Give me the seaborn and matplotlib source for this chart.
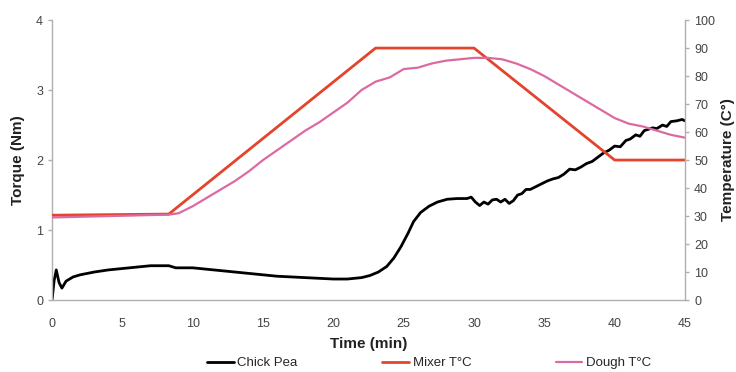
import matplotlib
matplotlib.use("Agg")
import matplotlib.pyplot as plt
import seaborn as sns
import pandas as pd

# torque of chick pea dough (Nm) vs time (min)
cp_time = [0, 0.15, 0.3, 0.5, 0.7, 1.0, 1.5, 2, 3, 4, 5, 6, 7, 8, 8.3, 8.8, 10, 11, 12, 13,
           14, 15, 16, 17, 18, 19, 20, 21, 22, 22.6, 23.2, 23.8, 24.3, 24.8, 25.3, 25.7, 26.2,
           26.8, 27.4, 28.1, 28.8, 29.5, 29.8, 30.1, 30.4, 30.7, 31.0, 31.3, 31.6, 31.9, 32.2,
           32.5, 32.8, 33.1, 33.4, 33.7, 34.0, 34.4, 34.8, 35.2, 35.6, 36.0, 36.4, 36.8, 37.2,
           37.6, 38.0, 38.4, 38.8, 39.2, 39.6, 40.0, 40.4, 40.8, 41.1, 41.5, 41.8, 42.1, 42.4,
           42.7, 43.0, 43.4, 43.7, 44.0, 44.4, 44.8, 45]
cp_torque = [0, 0.28, 0.43, 0.25, 0.17, 0.27, 0.33, 0.36, 0.40, 0.43, 0.45, 0.47, 0.49, 0.49,
             0.49, 0.46, 0.46, 0.44, 0.42, 0.40, 0.38, 0.36, 0.34, 0.33, 0.32, 0.31, 0.30, 0.30,
             0.32, 0.35, 0.40, 0.48, 0.60, 0.76, 0.95, 1.12, 1.25, 1.34, 1.40, 1.44, 1.45, 1.45,
             1.47, 1.40, 1.35, 1.40, 1.37, 1.43, 1.44, 1.40, 1.44, 1.38, 1.42, 1.50, 1.52, 1.58,
             1.58, 1.62, 1.66, 1.70, 1.73, 1.75, 1.80, 1.87, 1.86, 1.90, 1.95, 1.98, 2.04, 2.10,
             2.14, 2.20, 2.19, 2.28, 2.30, 2.36, 2.34, 2.42, 2.44, 2.46, 2.45, 2.50, 2.48, 2.55,
             2.56, 2.58, 2.56]

# mixer set temperature (°C)
mixer_time = [0, 8.3, 23, 30, 40, 45]
mixer_temp = [30.3, 30.7, 90, 90, 50, 50]

# dough temperature (°C)
dough_time = [0, 8.3, 9, 10, 11, 12, 13, 14, 15, 16, 17, 18, 19, 20, 21, 22, 23, 24, 25, 26,
              27, 28, 29, 30, 31, 32, 33, 34, 35, 36, 37, 38, 39, 40, 41, 42, 43, 44, 45]
dough_temp = [29.5, 30.5, 31, 33.5, 36.5, 39.5, 42.5, 46, 50, 53.5, 57, 60.5, 63.5, 67, 70.5,
              75, 78, 79.5, 82.5, 83, 84.5, 85.5, 86, 86.5, 86.5, 86, 84.5, 82.5, 80, 77, 74,
              71, 68, 65, 63, 62, 60.5, 59, 58]

x_ticks = [0, 5, 10, 15, 20, 25, 30, 35, 40, 45]
torque_ticks = [0, 1, 2, 3, 4]
temp_ticks = [0, 10, 20, 30, 40, 50, 60, 70, 80, 90, 100]

sns.set_style("white")
plt.rcParams['font.family'] = ['Liberation Sans', 'DejaVu Sans']

cp_df = pd.DataFrame({"time": cp_time, "torque": cp_torque})
mixer_df = pd.DataFrame({"time": mixer_time, "temp": mixer_temp})
dough_df = pd.DataFrame({"time": dough_time, "temp": dough_temp})

fig = plt.figure(figsize=(7.36, 3.72), dpi=100)
ax = fig.add_axes([0.0707, 0.1935, 0.86, 0.7525])
ax2 = ax.twinx()

sns.lineplot(data=cp_df, x="time", y="torque", ax=ax, color="black", linewidth=2,
             label="Chick Pea", legend=False)
sns.lineplot(data=mixer_df, x="time", y="temp", ax=ax2, color="#e2452c", linewidth=2,
             label="Mixer T°C", legend=False)
sns.lineplot(data=dough_df, x="time", y="temp", ax=ax2, color="#dc6aa2", linewidth=1.6,
             label="Dough T°C", legend=False)

ax.set_xlim(0, 45)
ax.set_ylim(0, 4)
ax2.set_ylim(0, 100)
ax.set_xticks(x_ticks)
ax.set_yticks(torque_ticks)
ax2.set_yticks(temp_ticks)

grey = "#b0b0b0"
for a in (ax, ax2):
    a.spines["top"].set_visible(False)
    for s in ("left", "right", "bottom"):
        a.spines[s].set_color(grey)
        a.spines[s].set_linewidth(1)
    a.tick_params(colors=grey, labelcolor="#444444", labelsize=9, length=3, width=1)
ax.tick_params(axis="x", pad=10)
ax.spines["right"].set_visible(False)
ax2.spines["left"].set_visible(False)
ax2.spines["bottom"].set_visible(False)

ax.set_xlabel("Time (min)", fontsize=11, fontweight="bold", labelpad=5, color="#222222")
ax.set_ylabel("Torque (Nm)", fontsize=11, fontweight="bold", labelpad=8, color="#222222")
ax2.set_ylabel("Temperature (C°)", fontsize=11, fontweight="bold", labelpad=4, color="#222222")

h1, l1 = ax.get_legend_handles_labels()
h2, l2 = ax2.get_legend_handles_labels()
fig.legend(h1 + h2, l1 + l2, loc="lower center", bbox_to_anchor=(0.583, -0.025), ncol=3,
           frameon=False, fontsize=9.5, handlelength=2.0, handletextpad=0.3, columnspacing=6.4)

fig.savefig("out.png", dpi=100)
